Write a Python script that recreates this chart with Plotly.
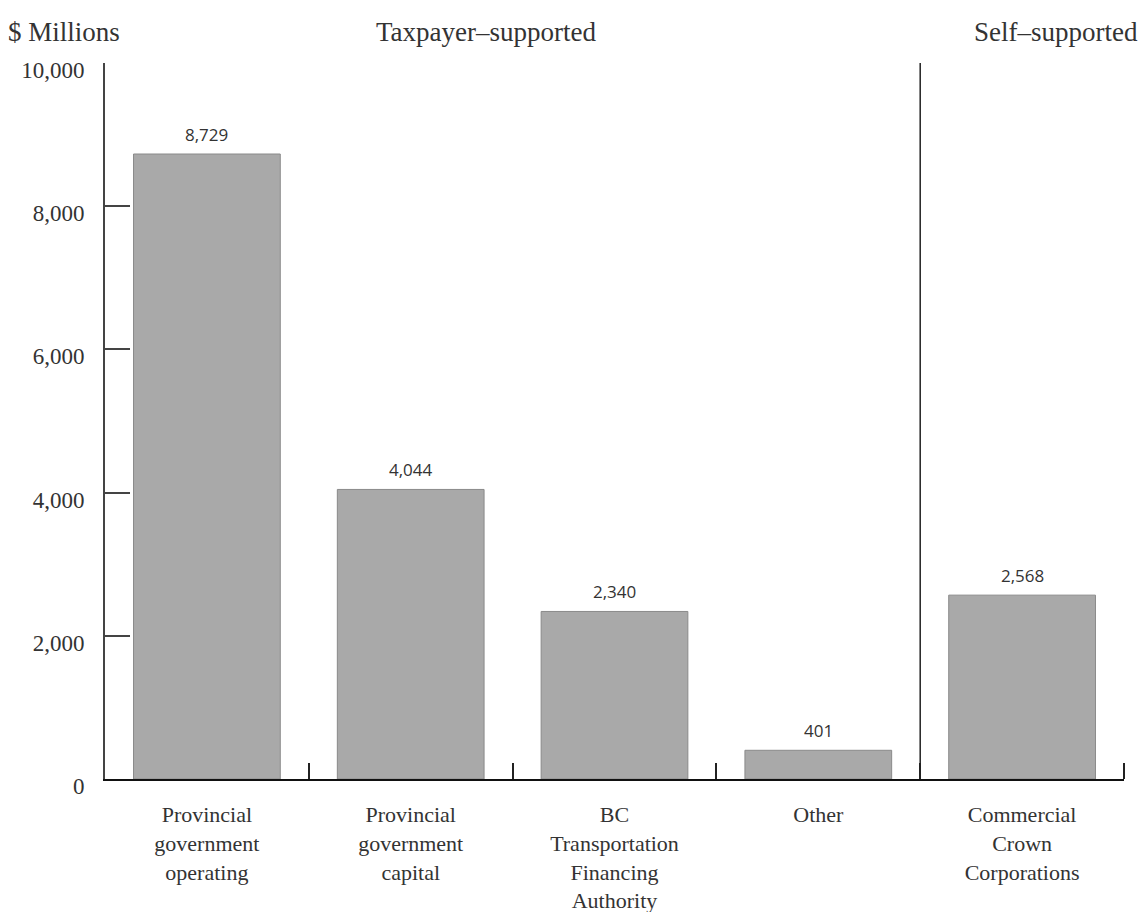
import plotly.graph_objects as go

categories = [
    "Provincial<br>government<br>operating",
    "Provincial<br>government<br>capital",
    "BC<br>Transportation<br>Financing<br>Authority",
    "Other",
    "Commercial<br>Crown<br>Corporations",
]
values = [8729, 4044, 2340, 401, 2568]
ytick_vals = [0, 2000, 4000, 6000, 8000, 10000]

xpos = list(range(len(categories)))
serif = "Liberation Serif, Times New Roman, serif"
sans = "Open Sans, Liberation Sans, sans-serif"

fig = go.Figure()
fig.add_trace(go.Bar(
    x=xpos, y=values, width=0.72,
    marker=dict(color="#a9a9a9", line=dict(color="#8a8a8a", width=1)),
    hoverinfo="skip",
))

for xi, v in zip(xpos, values):
    fig.add_annotation(x=xi, y=v, text=f"{v:,}", showarrow=False,
                       yanchor="bottom", yshift=6,
                       font=dict(family=sans, size=17, color="#333"))

# divider between taxpayer- and self-supported
fig.add_shape(type="line", xref="x", yref="paper", x0=3.5, x1=3.5, y0=0, y1=1,
              line=dict(color="#222", width=1.5))

hfont = dict(family=serif, size=27, color="#333")
fig.add_annotation(xref="paper", yref="paper", x=-0.097, y=1.02, xanchor="left", yanchor="bottom",
                   text="$ Millions", showarrow=False, font=hfont)
fig.add_annotation(xref="x", yref="paper", x=1.37, y=1.02, xanchor="center", yanchor="bottom",
                   text="Taxpayer–supported", showarrow=False, font=hfont)
fig.add_annotation(xref="paper", yref="paper", x=1.016, y=1.02, xanchor="right", yanchor="bottom",
                   text="Self–supported", showarrow=False, font=hfont)

fig.update_layout(
    width=1144, height=912,
    margin=dict(l=105, r=20, t=63, b=133),
    paper_bgcolor="white", plot_bgcolor="white",
    showlegend=False,
)
fig.update_xaxes(
    range=[-0.5, 4.5], tickvals=xpos, ticktext=categories, automargin=False,
    showline=True, linecolor="#111", linewidth=2,
    ticks="", showgrid=False, zeroline=False, ticklabelstandoff=15,
    tickfont=dict(family=serif, size=22, color="#333"),
    minor=dict(tickvals=[0.5, 1.5, 2.5, 3.5, 4.5], ticks="inside", ticklen=16,
               tickcolor="#222", tickwidth=1.5, showgrid=False),
)
fig.update_yaxes(
    range=[0, 10000], tickvals=ytick_vals, tickformat=",", automargin=False,
    showline=True, linecolor="#444", linewidth=2,
    ticks="inside", ticklen=25, tickcolor="#444", tickwidth=1.5,
    showgrid=False, zeroline=False, ticklabelstandoff=14, ticklabelshift=7,
    tickfont=dict(family=serif, size=23, color="#333"),
)

fig.write_html("out.html")
